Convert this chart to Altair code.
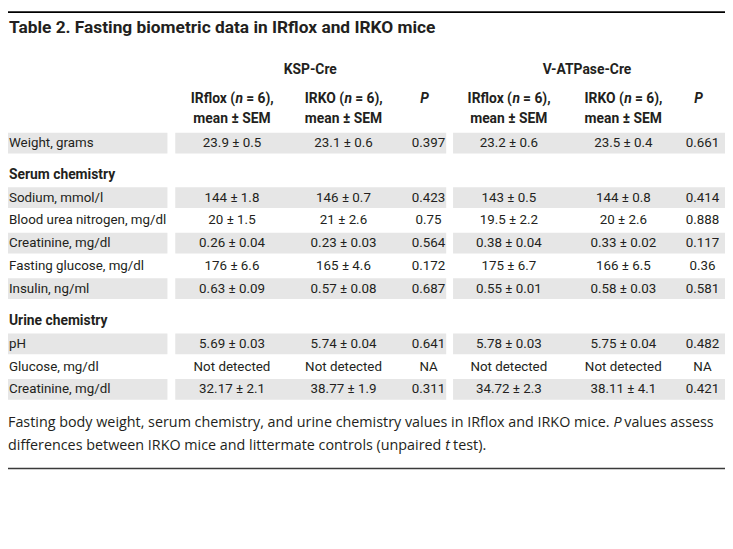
import altair as alt
import pandas as pd

# ---------------- data ----------------
title_text = "Table 2. Fasting biometric data in IRflox and IRKO mice"
groups = ["KSP-Cre", "V-ATPase-Cre"]
col_head_prefix = ["IRflox (", "IRKO (", "IRflox (", "IRKO ("]
col_head_italic = "n"
col_head_suffix = "= 6),"
col_head_line2 = "mean ± SEM"
p_head = "P"

row_labels = ["Weight, grams", "Serum chemistry", "Sodium, mmol/l",
              "Blood urea nitrogen, mg/dl", "Creatinine, mg/dl",
              "Fasting glucose, mg/dl", "Insulin, ng/ml", "Urine chemistry",
              "pH", "Glucose, mg/dl", "Creatinine, mg/dl"]
section_rows = [False, True, False, False, False, False, False, True, False, False, False]
ksp_irflox = ["23.9 ± 0.5", "", "144 ± 1.8", "20 ± 1.5", "0.26 ± 0.04", "176 ± 6.6",
              "0.63 ± 0.09", "", "5.69 ± 0.03", "Not detected", "32.17 ± 2.1"]
ksp_irko = ["23.1 ± 0.6", "", "146 ± 0.7", "21 ± 2.6", "0.23 ± 0.03", "165 ± 4.6",
            "0.57 ± 0.08", "", "5.74 ± 0.04", "Not detected", "38.77 ± 1.9"]
ksp_p = ["0.397", "", "0.423", "0.75", "0.564", "0.172", "0.687", "", "0.641", "NA", "0.311"]
v_irflox = ["23.2 ± 0.6", "", "143 ± 0.5", "19.5 ± 2.2", "0.38 ± 0.04", "175 ± 6.7",
            "0.55 ± 0.01", "", "5.78 ± 0.03", "Not detected", "34.72 ± 2.3"]
v_irko = ["23.5 ± 0.4", "", "144 ± 0.8", "20 ± 2.6", "0.33 ± 0.02", "166 ± 6.5",
          "0.58 ± 0.03", "", "5.75 ± 0.04", "Not detected", "38.11 ± 4.1"]
v_p = ["0.661", "", "0.414", "0.888", "0.117", "0.36", "0.581", "", "0.482", "NA", "0.421"]

caption_1 = "Fasting body weight, serum chemistry, and urine chemistry values in IRflox and IRKO mice."
caption_1_it = "P"
caption_1_end = "values assess"
caption_2 = "differences between IRKO mice and littermate controls (unpaired"
caption_2_it = "t"
caption_2_end = "test)."

# ---------------- layout (reference pixel grid) ----------------
W, H = 725, 480
TXT = "#231f20"
BAND = "#e6e6e6"
BODY = "Roboto"
CAP = "Open Sans"
FS = 13.5      # body text size
FB = 14        # bold header size
CS = 14.5      # caption size
xs = alt.Scale(domain=[0, 733], range=[0, W])
ys = alt.Scale(domain=[8, 8 + H], range=[0, H])

row_y = [142, 174, 197, 220, 243, 266, 289, 322, 345, 368, 391]
shaded = [i % 2 == 0 for i in range(len(row_labels))]
segments = [(0, 163), (171, 448), (455, 733)]
group_x = [309, 592]
col_x = [229, 343, 430, 512, 629, 710]
mean_cols = [0, 1, 3, 4]
p_cols = [2, 5]
prefix_split = {"IRflox (": (3.2, 14.5), "IRKO (": (0.6, 11.9)}


def X(f="x"):
    return alt.X(f"{f}:Q", scale=xs, axis=None)


def Y(f="y"):
    return alt.Y(f"{f}:Q", scale=ys, axis=None)


def text_layer(df, size, weight="normal", style="normal", align="center", font=BODY):
    return alt.Chart(df).mark_text(
        font=font, fontSize=size, fontWeight=weight, fontStyle=style,
        align=align, baseline="middle", color=TXT
    ).encode(x=X(), y=Y(), text="t:N")


layers = []

# bands
bands = []
for ry, sh in zip(row_y, shaded):
    if sh:
        for a, b in segments:
            bands.append({"x1": a, "x2": b, "y1": ry - 10.5, "y2": ry + 10.5})
layers.append(alt.Chart(pd.DataFrame(bands)).mark_rect(color=BAND).encode(
    x=X("x1"), x2="x2:Q", y=Y("y1"), y2="y2:Q"))

# rules
rules = [
    {"x1": 0, "x2": 733, "y": 9.5, "w": 2, "c": "#000000"},
    {"x1": 0, "x2": 733, "y": 471, "w": 1.5, "c": "#3a3a3a"},
]
for r in rules:
    layers.append(alt.Chart(pd.DataFrame([r])).mark_rule(
        color=r["c"], strokeWidth=r["w"]).encode(x=X("x1"), x2="x2:Q", y=Y()))

# title
layers.append(text_layer(pd.DataFrame([{"t": title_text, "x": 1, "y": 26}]), 17.5,
                         weight="bold", align="left"))

# group headers
layers.append(text_layer(pd.DataFrame({"t": groups, "x": group_x, "y": [68, 68]}), FB, weight="bold"))

# column headers
pre, ital, suf, l2 = [], [], [], []
for pfx, ci in zip(col_head_prefix, mean_cols):
    c = col_x[ci]
    s, e = prefix_split[pfx]
    pre.append({"t": pfx, "x": c + s, "y": 97})
    ital.append({"t": col_head_italic, "x": c + s + 0.5, "y": 97})
    suf.append({"t": col_head_suffix, "x": c + e, "y": 97})
    l2.append({"t": col_head_line2, "x": c, "y": 118})
layers.append(text_layer(pd.DataFrame(pre), FB, weight="bold", align="right"))
layers.append(text_layer(pd.DataFrame(ital), FB, weight="bold", style="italic", align="left"))
layers.append(text_layer(pd.DataFrame(suf), FB, weight="bold", align="left"))
layers.append(text_layer(pd.DataFrame(l2), FB, weight="bold"))
layers.append(text_layer(pd.DataFrame([{"t": p_head, "x": col_x[ci] - 4, "y": 97} for ci in p_cols]),
                         FB, weight="bold", style="italic"))

# row labels
lab = pd.DataFrame({"t": row_labels, "x": 1, "y": row_y, "sec": section_rows})
layers.append(text_layer(lab[~lab.sec], FS, align="left"))
layers.append(text_layer(lab[lab.sec], FB, weight="bold", align="left"))

# values
vals = []
for ci, col in enumerate([ksp_irflox, ksp_irko, ksp_p, v_irflox, v_irko, v_p]):
    for ry, v in zip(row_y, col):
        if v:
            vals.append({"t": v, "x": col_x[ci], "y": ry})
layers.append(text_layer(pd.DataFrame(vals), FS))

# caption
layers.append(text_layer(pd.DataFrame([{"t": caption_1, "x": 0, "y": 425},
                                       {"t": caption_2, "x": 0, "y": 448}]), CS, align="left", font=CAP))
layers.append(text_layer(pd.DataFrame([{"t": caption_1_it, "x": 619, "y": 425},
                                       {"t": caption_2_it, "x": 447, "y": 448}]), CS, style="italic",
                         align="left", font=CAP))
layers.append(text_layer(pd.DataFrame([{"t": caption_1_end, "x": 630, "y": 425},
                                       {"t": caption_2_end, "x": 455, "y": 448}]), CS, align="left", font=CAP))

chart = alt.layer(*layers).properties(
    width=W, height=H, padding=0, autosize=alt.AutoSizeParams(type="none")
).configure_view(stroke=None)

chart.save("out.html", embed_options={"renderer": "svg", "actions": False})
